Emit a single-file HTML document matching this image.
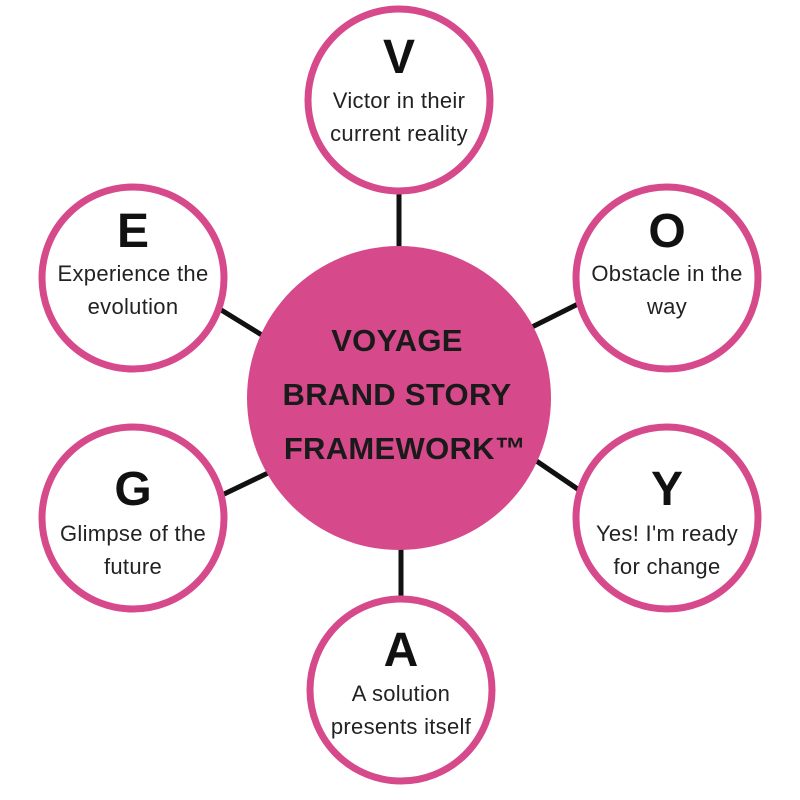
<!DOCTYPE html>
<html><head><meta charset="utf-8"><style>
body{margin:0;background:#fff;}
svg{display:block}
.l{font-family:"Liberation Sans",sans-serif;font-weight:bold;font-size:48px;fill:#111;text-anchor:middle}
.t{font-family:"Liberation Sans",sans-serif;font-size:22px;letter-spacing:0.3px;fill:#222;text-anchor:middle}
.c{font-family:"Liberation Sans",sans-serif;font-weight:bold;font-size:31px;letter-spacing:0.3px;fill:#1a1a1a;text-anchor:middle}
</style></head><body>
<svg width="800" height="800" viewBox="0 0 800 800">
<g stroke="#111" stroke-width="5">
<line x1="399" y1="190" x2="399" y2="250"/>
<line x1="218" y1="308" x2="265" y2="337"/>
<line x1="532" y1="327" x2="580" y2="303"/>
<line x1="220" y1="496" x2="270" y2="472"/>
<line x1="535" y1="460" x2="582" y2="492"/>
<line x1="401" y1="545" x2="401" y2="605"/>
</g>
<circle cx="399" cy="398" r="152" fill="#d64a8c"/>
<g fill="#fff" stroke="#d64a8c" stroke-width="7">
<circle cx="399" cy="100" r="91"/>
<circle cx="133" cy="278" r="91"/>
<circle cx="667" cy="278" r="91"/>
<circle cx="133" cy="518" r="91"/>
<circle cx="667" cy="518" r="91"/>
<circle cx="401" cy="690" r="91"/>
</g>
<text class="l" x="399" y="73">V</text>
<text class="t" x="399" y="108">Victor in their</text>
<text class="t" x="399" y="141">current reality</text>
<text class="l" x="133" y="247">E</text>
<text class="t" x="133" y="281">Experience the</text>
<text class="t" x="133" y="314">evolution</text>
<text class="l" x="667" y="247">O</text>
<text class="t" x="667" y="281">Obstacle in the</text>
<text class="t" x="667" y="314">way</text>
<text class="l" x="133" y="505">G</text>
<text class="t" x="133" y="541">Glimpse of the</text>
<text class="t" x="133" y="574">future</text>
<text class="l" x="667" y="505">Y</text>
<text class="t" x="667" y="541">Yes! I'm ready</text>
<text class="t" x="667" y="574">for change</text>
<text class="l" x="401" y="666">A</text>
<text class="t" x="401" y="701">A solution</text>
<text class="t" x="401" y="734">presents itself</text>
<text class="c" x="397" y="351">VOYAGE</text>
<text class="c" x="397" y="405">BRAND STORY</text>
<text class="c" x="405" y="459">FRAMEWORK™</text>
</svg>
</body></html>
